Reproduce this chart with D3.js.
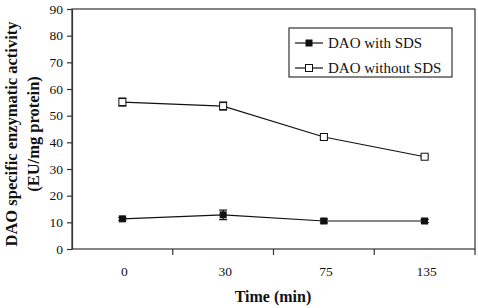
<!DOCTYPE html>
<html lang="en">
<head>
  <meta charset="UTF-8">
  <script src="https://d3js.org/d3.v7.min.js"></script>
  <style>
    body { margin: 0; background: #fff; }
    svg text { font-family: "Liberation Serif", "DejaVu Serif", serif !important; fill: #111; }
    .axis path, .axis line { stroke: #333; stroke-width: 1.2; }
  </style>
</head>
<body>
  <svg id="chart" width="478" height="308" font-family="Liberation Serif"></svg>
  <script>
    // data
    const times = ["0", "30", "75", "135"];
    const withSDS = [11.3, 12.8, 10.5, 10.5];
    const withSDSErr = [0.6, 1.8, 0.7, 0.6];
    const withoutSDS = [55.1, 53.6, 42.0, 34.6];
    const withoutSDSErr = [1.5, 1.5, 0.8, 0.5];
    const yTicks = [0, 10, 20, 30, 40, 50, 60, 70, 80, 90];

    const svg = d3.select("#chart");
    const margin = { top: 9, right: 3, bottom: 59, left: 72 };
    const width = 478 - margin.left - margin.right;
    const height = 308 - margin.top - margin.bottom;

    const g = svg.append("g").attr("transform", `translate(${margin.left},${margin.top})`);

    const x = d3.scaleBand().domain(times).range([0, width]);
    const y = d3.scaleLinear().domain([0, 90]).range([height, 0]);
    const cx = d => x(d) + x.bandwidth() / 2;

    // frame
    g.append("rect").attr("width", width).attr("height", height)
      .attr("fill", "none").attr("stroke", "#333").attr("stroke-width", 1.2);

    // y axis
    const yAxis = g.append("g").attr("class", "axis")
      .call(d3.axisLeft(y).tickValues(yTicks).tickSize(5).tickSizeOuter(0));
    yAxis.attr("font-family", null);
    yAxis.selectAll("text").style("font-size", "13.5px").attr("dx", "-1");

    // x axis: ticks at band boundaries, labels at band centers
    const bounds = times.map(t => x(t)).slice(1).concat([width]);
    g.append("g").selectAll("line").data(bounds).join("line")
      .attr("x1", d => d).attr("x2", d => d)
      .attr("y1", height).attr("y2", height + 6)
      .attr("stroke", "#333").attr("stroke-width", 1.2);
    g.append("g").selectAll("text").data(times).join("text")
      .attr("x", d => cx(d) + 2).attr("y", height + 27)
      .attr("text-anchor", "middle").style("font-size", "13.5px")
      .text(d => d);

    // axis titles
    svg.append("text").attr("x", 273).attr("y", 302)
      .attr("text-anchor", "middle").style("font-size", "16px").style("font-weight", "bold")
      .text("Time (min)");
    const yt = svg.append("text")
      .attr("transform", "translate(0,134) rotate(-90)")
      .attr("text-anchor", "middle").style("font-size", "16.5px").style("font-weight", "bold");
    yt.append("tspan").attr("x", 0).attr("y", 17).text("DAO specific enzymatic activity");
    yt.append("tspan").attr("x", 0).attr("y", 39).text("(EU/mg protein)");

    const series = [
      { name: "DAO with SDS", values: withSDS, err: withSDSErr, fill: "#111", size: 6 },
      { name: "DAO without SDS", values: withoutSDS, err: withoutSDSErr, fill: "#fff", size: 7 }
    ];

    const line = d3.line().x((d, i) => cx(times[i])).y(d => y(d));

    series.forEach(s => {
      g.append("path").attr("d", line(s.values))
        .attr("fill", "none").attr("stroke", "#111").attr("stroke-width", 1.2);
      const eb = g.append("g");
      s.values.forEach((v, i) => {
        const px = cx(times[i]);
        const lo = y(v - s.err[i]), hi = y(v + s.err[i]);
        eb.append("line").attr("x1", px).attr("x2", px).attr("y1", lo).attr("y2", hi)
          .attr("stroke", "#111").attr("stroke-width", 1.2);
        [lo, hi].forEach(yy => eb.append("line")
          .attr("x1", px - 4).attr("x2", px + 4).attr("y1", yy).attr("y2", yy)
          .attr("stroke", "#111").attr("stroke-width", 1.2));
      });
      g.append("g").selectAll("rect").data(s.values).join("rect")
        .attr("x", (d, i) => cx(times[i]) - s.size / 2)
        .attr("y", d => y(d) - s.size / 2)
        .attr("width", s.size).attr("height", s.size)
        .attr("fill", s.fill).attr("stroke", "#111").attr("stroke-width", 1);
    });

    // legend
    const legend = svg.append("g").attr("transform", "translate(289,28)");
    legend.append("rect").attr("width", 163).attr("height", 49)
      .attr("fill", "#fff").attr("stroke", "#333").attr("stroke-width", 1.2);
    series.forEach((s, i) => {
      const ly = 15 + i * 25;
      legend.append("line").attr("x1", 6).attr("x2", 34).attr("y1", ly).attr("y2", ly)
        .attr("stroke", "#111").attr("stroke-width", 1.2);
      legend.append("rect").attr("x", 20 - s.size / 2).attr("y", ly - s.size / 2)
        .attr("width", s.size).attr("height", s.size)
        .attr("fill", s.fill).attr("stroke", "#111").attr("stroke-width", 1);
      legend.append("text").attr("x", 39).attr("y", ly + 5)
        .style("font-size", "15px").text(s.name);
    });
  </script>
</body>
</html>
